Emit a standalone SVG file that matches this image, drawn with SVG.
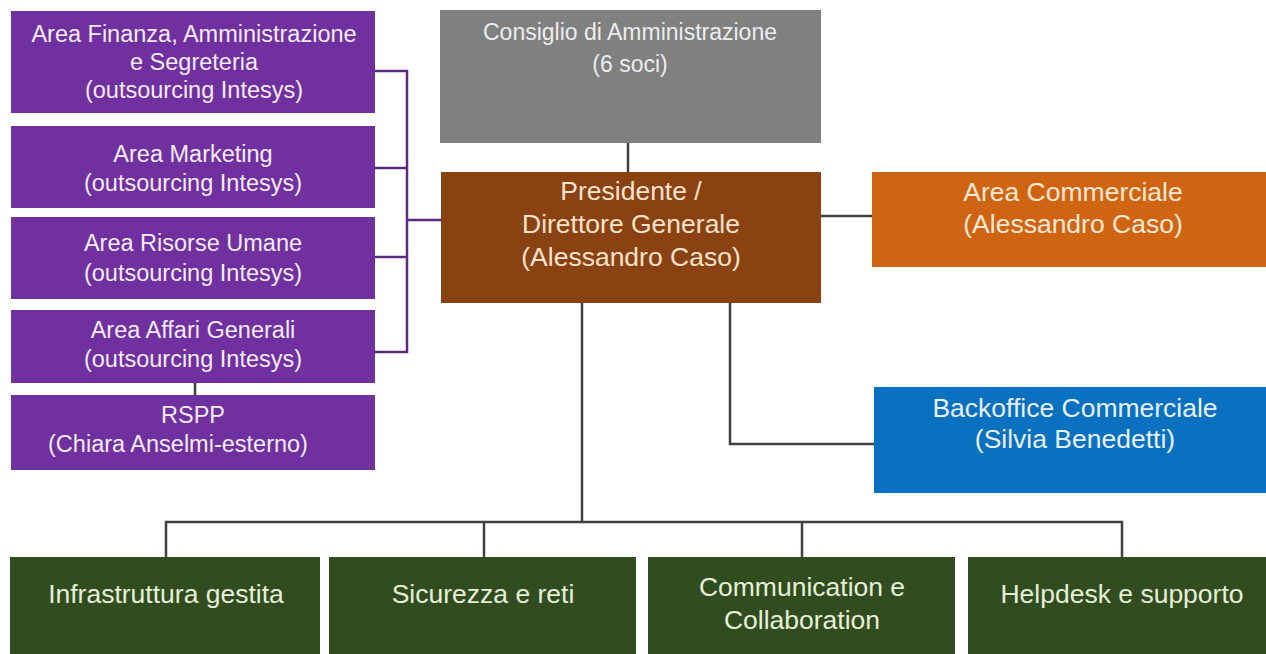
<svg xmlns="http://www.w3.org/2000/svg" width="1266" height="654" viewBox="0 0 1266 654">
<style>
text{font-family:"Liberation Sans",Arial,sans-serif;text-anchor:middle}
.pu rect{fill:#7030a0}
.pu text{fill:#f3ecf7;font-size:23.5px}
.gr rect{fill:#808080}
.gr text{fill:#ececec;font-size:23px}
.br rect{fill:#8a4212}
.br text{fill:#fde3cc;font-size:26.5px}
.or rect{fill:#cf6512}
.or text{fill:#fde8d6;font-size:26.5px}
.bl rect{fill:#0a70c0}
.bl text{fill:#e8f1fa;font-size:26.5px}
.gn rect{fill:#314d1f}
.gn text{fill:#e6efd8;font-size:26.5px}
.c{fill:none;stroke:#404040;stroke-width:2.5}
.cp{fill:none;stroke:#5c2a7e;stroke-width:2.5}
</style>
<rect width="1266" height="654" fill="#ffffff"/>
<g id="connectors">
<path class="cp" d="M375 71H407V352H375M375 168H407M375 257H407M407 220H441"/>
<path class="c" d="M195 383V395"/>
<path class="c" d="M628 143V172"/>
<path class="c" d="M821 216H872"/>
<path class="c" d="M730 303V444H874"/>
<path class="c" d="M582 303V522"/>
<path class="c" d="M166 557V522H1122V557M484 522V557M802 522V557"/>
</g>
<g id="area-finanza" class="pu"><rect x="11" y="11" width="364" height="102"/><text x="194" y="42">Area Finanza, Amministrazione</text><text x="194" y="70">e Segreteria</text><text x="194" y="98">(outsourcing Intesys)</text></g>
<g id="area-marketing" class="pu"><rect x="11" y="126" width="364" height="82"/><text x="193" y="162">Area Marketing</text><text x="193" y="191">(outsourcing Intesys)</text></g>
<g id="area-risorse" class="pu"><rect x="11" y="217" width="364" height="82"/><text x="193" y="251">Area Risorse Umane</text><text x="193" y="281">(outsourcing Intesys)</text></g>
<g id="area-affari" class="pu"><rect x="11" y="310" width="364" height="73"/><text x="193" y="338">Area Affari Generali</text><text x="193" y="367">(outsourcing Intesys)</text></g>
<g id="rspp" class="pu"><rect x="11" y="395" width="364" height="75"/><text x="193" y="423">RSPP</text><text x="178" y="452">(Chiara Anselmi-esterno)</text></g>
<g id="consiglio" class="gr"><rect x="440" y="10" width="381" height="133"/><text x="630" y="40">Consiglio di Amministrazione</text><text x="630" y="72">(6 soci)</text></g>
<g id="presidente" class="br"><rect x="441" y="172" width="380" height="131"/><text x="631" y="200">Presidente /</text><text x="631" y="233">Direttore Generale</text><text x="631" y="266">(Alessandro Caso)</text></g>
<g id="area-commerciale" class="or"><rect x="872" y="172" width="394" height="95"/><text x="1073" y="201">Area Commerciale</text><text x="1073" y="233">(Alessandro Caso)</text></g>
<g id="backoffice" class="bl"><rect x="874" y="387" width="392" height="106"/><text x="1075" y="417">Backoffice Commerciale</text><text x="1075" y="448">(Silvia Benedetti)</text></g>
<g id="infrastruttura" class="gn"><rect x="10" y="557" width="310" height="97"/><text x="166" y="603">Infrastruttura gestita</text></g>
<g id="sicurezza" class="gn"><rect x="329" y="557" width="307" height="97"/><text x="483" y="603">Sicurezza e reti</text></g>
<g id="communication" class="gn"><rect x="648" y="557" width="307" height="97"/><text x="802" y="596">Communication e</text><text x="802" y="629">Collaboration</text></g>
<g id="helpdesk" class="gn"><rect x="968" y="557" width="298" height="97"/><text x="1122" y="603">Helpdesk e supporto</text></g>
</svg>
